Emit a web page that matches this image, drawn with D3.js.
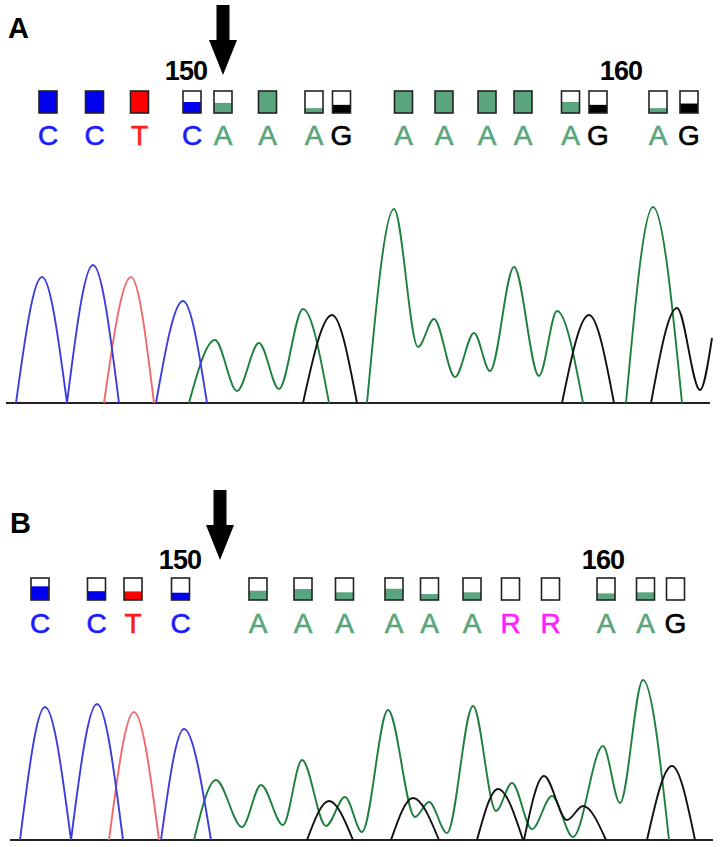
<!DOCTYPE html>
<html>
<head>
<meta charset="utf-8">
<script src="https://cdn.jsdelivr.net/npm/d3@7"></script>
<style>
  body { margin: 0; background: #fff; }
  svg { display: block; }
</style>
</head>
<body>
<svg id="chart" width="720" height="847"></svg>
<script>
// base calls (scan position of each call, quality fraction of its box)
const basesA = ["C","C","T","C","A","A","A","G","A","A","A","A","A","G","A","G"];
const basePosA = [96,189,279,384,446,535,628,683,807,888,974,1046,1141,1196,1316,1378];
const qualA = [1,1,1,0.5,0.46,1,0.22,0.37,1,1,1,1,0.5,0.37,0.22,0.43];

const basesB = ["C","C","T","C","A","A","A","A","A","A","R","R","A","A","G"];
const basePosB = [80,193,266,361,516,606,689,788,859,944,1021,1101,1212,1291,1351];
const qualB = [0.62,0.4,0.39,0.33,0.42,0.5,0.35,0.51,0.27,0.35,0,0,0.3,0.35,0];

// position numbers and the arrow (scan units)
const tickLabels = ["150", "160"];
const tickPosA = [372, 1242];
const tickPosB = [360, 1206];
const arrowPosA = 446;
const arrowPosB = 440;

// traces: [scan, signal], null breaks the line
const traceA_C = [[32,0],[84,1260],[134,0], null, [134,0],[186,1380],[238,0], null, [312,0],[366,1020],[414,0]];
const traceA_T = [[208,0],[262,1260],[308,0]];
const traceA_A = [[378,0],[430,630],[474,120],[518,600],[558,140],[606,940],[658,0], null,
  [734,0],[788,1940],[836,560],[868,840],[910,260],[948,700],[980,320],[1028,1360],[1078,270],[1114,920],[1166,0], null,
  [1252,0],[1306,1960],[1364,0]];
const traceA_G = [[606,0],[664,880],[714,0], null, [1124,0],[1178,880],[1228,0], null, [1302,0],[1354,950],[1400,130],[1424,650]];

const traceB_C = [[40,0],[90,1330],[142,0], null, [142,0],[194,1360],[246,0], null, [322,0],[368,1110],[422,0]];
const traceB_T = [[218,0],[268,1280],[318,0]];
const traceB_A = [[388,0],[432,600],[484,130],[522,550],[566,150],[604,800],[652,140],[690,430],[724,80],
  [776,1300],[830,230],[858,380],[894,70],[946,1340],[992,290],[1024,570],[1064,110],[1104,440],[1146,30],
  [1206,940],[1240,370],[1286,1600],[1338,0]];
const traceB_G = [[614,0],[658,390],[706,0], null, [782,0],[826,420],[878,0], null, [954,0],[996,510],[1046,0], null,
  [1048,0],[1088,640],[1134,200],[1166,340],[1212,0], null, [1294,0],[1344,740],[1390,0]];

const baselineA = [12, 1420];
const baselineB = [20, 1426];

const letterColor = { C: "#1a1aff", T: "#ff1a1a", A: "#5aa57c", G: "#000", R: "#ff22ff" };
const boxColor = { C: "#0000ee", T: "#ff0000", A: "#5aa57e", G: "#000", R: "#fff" };
const traceColor = { C: "#3c3cdc", T: "#f06a6a", A: "#1f7f3f", G: "#111" };

const font = "'Liberation Sans', Arial, sans-serif";
const svg = d3.select("#chart");
const x = d3.scaleLinear().domain([0, 1440]).range([0, 720]);

function drawPanel(p) {
  const g = svg.append("g");
  const y = d3.scaleLinear().domain([0, 2000]).range([p.base, p.base - 200]);

  // panel letter
  g.append("text")
    .attr("x", p.letterX).attr("y", p.letterY)
    .attr("font-family", font).attr("font-weight", "bold").attr("font-size", 29)
    .text(p.name);

  // arrow
  const ax = x(p.arrow);
  g.append("path")
    .attr("d", `M${ax - 6.5},${p.arrowTop} L${ax + 6.5},${p.arrowTop} L${ax + 6.5},${p.arrowTip - 35}
      L${ax + 14},${p.arrowTip - 35} L${ax},${p.arrowTip} L${ax - 14},${p.arrowTip - 35}
      L${ax - 6.5},${p.arrowTip - 35} Z`)
    .attr("fill", "#000");

  // position numbers
  g.selectAll(".tick").data(tickLabels).enter().append("text")
    .attr("x", (d, i) => x(p.ticks[i])).attr("y", p.tickY)
    .attr("text-anchor", "middle")
    .attr("font-family", font).attr("font-weight", "bold").attr("font-size", 27)
    .attr("letter-spacing", -0.8)
    .text(d => d);

  // quality boxes
  const bw = 18, bh = 22;
  const boxes = g.selectAll(".box").data(p.bases).enter().append("g");
  boxes.append("rect")
    .attr("x", (d, i) => x(p.pos[i]) - bw / 2)
    .attr("y", (d, i) => p.boxTop + bh * (1 - p.qual[i]))
    .attr("width", bw)
    .attr("height", (d, i) => bh * p.qual[i])
    .attr("fill", d => boxColor[d]);
  boxes.append("rect")
    .attr("x", (d, i) => x(p.pos[i]) - bw / 2)
    .attr("y", p.boxTop)
    .attr("width", bw).attr("height", bh)
    .attr("fill", "none").attr("stroke", "#222").attr("stroke-width", 1.6);

  // base letters
  g.selectAll(".base").data(p.bases).enter().append("text")
    .attr("x", (d, i) => x(p.pos[i])).attr("y", p.baseY)
    .attr("text-anchor", "middle")
    .attr("font-family", font).attr("font-size", 28)
    .attr("fill", d => letterColor[d])
    .attr("stroke", d => letterColor[d]).attr("stroke-width", 0.6)
    .text(d => d);

  // baseline
  g.append("line")
    .attr("x1", x(p.baseline[0])).attr("x2", x(p.baseline[1]))
    .attr("y1", y(0)).attr("y2", y(0))
    .attr("stroke", "#222").attr("stroke-width", 2);

  // traces
  const line = d3.line()
    .defined(d => d !== null)
    .x(d => x(d[0])).y(d => y(d[1]))
    .curve(d3.curveMonotoneX);
  ["A", "G", "T", "C"].forEach(b => {
    g.append("path")
      .attr("d", line(p.traces[b]))
      .attr("fill", "none")
      .attr("stroke", traceColor[b])
      .attr("stroke-width", 1.9);
  });
}

drawPanel({
  name: "A", letterX: 8, letterY: 38,
  arrow: arrowPosA, arrowTop: 5, arrowTip: 75,
  ticks: tickPosA, tickY: 80,
  bases: basesA, pos: basePosA, qual: qualA,
  boxTop: 91, baseY: 145,
  base: 403, baseline: baselineA,
  traces: { C: traceA_C, T: traceA_T, A: traceA_A, G: traceA_G }
});

drawPanel({
  name: "B", letterX: 10, letterY: 533,
  arrow: arrowPosB, arrowTop: 490, arrowTip: 560,
  ticks: tickPosB, tickY: 569,
  bases: basesB, pos: basePosB, qual: qualB,
  boxTop: 578, baseY: 633,
  base: 840, baseline: baselineB,
  traces: { C: traceB_C, T: traceB_T, A: traceB_A, G: traceB_G }
});
</script>
</body>
</html>
